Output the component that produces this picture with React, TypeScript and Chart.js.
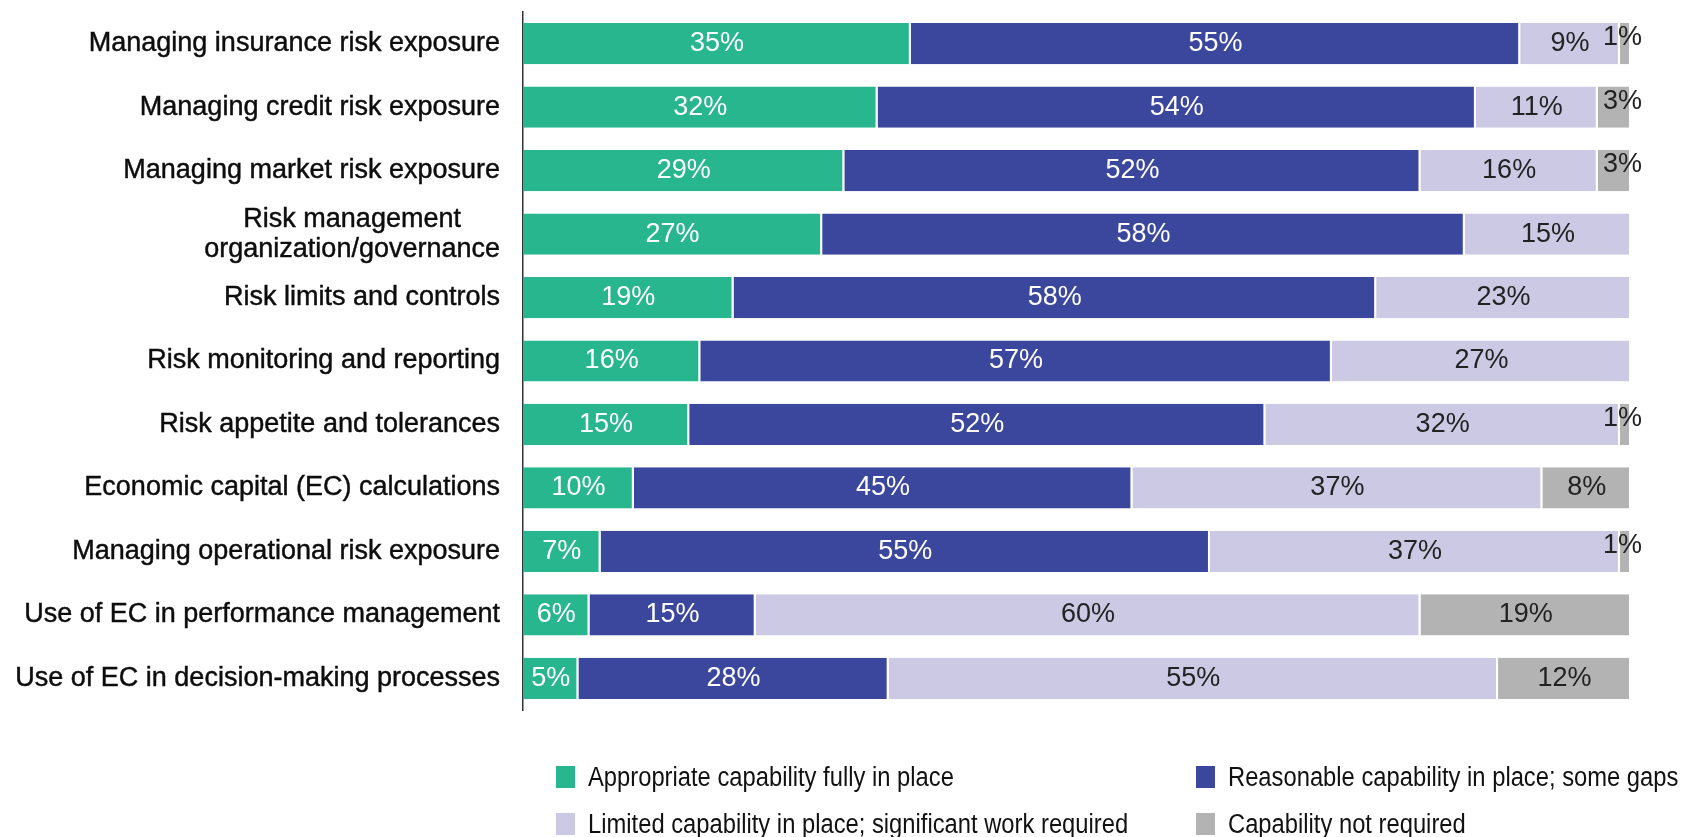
import React, { useEffect, useRef } from "react";
import { Chart, registerables } from "chart.js";

Chart.register(...registerables);

const categories: (string | string[])[] = [
  "Managing insurance risk exposure",
  "Managing credit risk exposure",
  "Managing market risk exposure",
  ["Risk management", "organization/governance"],
  "Risk limits and controls",
  "Risk monitoring and reporting",
  "Risk appetite and tolerances",
  "Economic capital (EC) calculations",
  "Managing operational risk exposure",
  "Use of EC in performance management",
  "Use of EC in decision-making processes",
];

const seriesNames = [
  "Appropriate capability fully in place",
  "Reasonable capability in place; some gaps",
  "Limited capability in place; significant work required",
  "Capability not required",
];

const fullyInPlace = [35, 32, 29, 27, 19, 16, 15, 10, 7, 6, 5];
const someGaps = [55, 54, 52, 58, 58, 57, 52, 45, 55, 15, 28];
const significantWork = [9, 11, 16, 15, 23, 27, 32, 37, 37, 60, 55];
const notRequired = [1, 3, 3, 0, 0, 0, 1, 8, 1, 19, 12];

const seriesColors = ["#27B68E", "#3B479C", "#CCC9E4", "#B3B3B3"];
const labelColors = ["#ffffff", "#ffffff", "#222222", "#222222"];

const FONT = "'Liberation Sans', Arial, sans-serif";

const categoryLabelPlugin = {
  id: "categoryLabels",
  afterDraw(chart: any) {
    const ctx = chart.ctx;
    const yScale = chart.scales.y;
    const right = chart.chartArea.left - 23;
    ctx.save();
    ctx.font = `27px ${FONT}`;
    ctx.fillStyle = "#0d0d0d";
    ctx.strokeStyle = "#0d0d0d";
    ctx.lineWidth = 0.45;
    ctx.textBaseline = "middle";
    const draw = (t: string, x: number, y: number) => {
      ctx.fillText(t, x, y);
      ctx.strokeText(t, x, y);
    };
    categories.forEach((cat, i) => {
      const y = yScale.getPixelForValue(i);
      if (Array.isArray(cat)) {
        const widths = cat.map((l) => ctx.measureText(l).width);
        const maxW = Math.max(...widths);
        const cx = right - maxW / 2;
        const lh = 30;
        const y0 = y - ((cat.length - 1) * lh) / 2;
        ctx.textAlign = "center";
        cat.forEach((line, j) => draw(line, cx, y0 + j * lh));
      } else {
        ctx.textAlign = "right";
        draw(cat, right, y);
      }
    });
    ctx.restore();
  },
};

const valueLabelPlugin = {
  id: "valueLabels",
  afterDatasetsDraw(chart: any) {
    const ctx = chart.ctx;
    ctx.save();
    ctx.font = `27px ${FONT}`;
    ctx.textBaseline = "middle";
    chart.data.datasets.forEach((ds: any, di: number) => {
      const meta = chart.getDatasetMeta(di);
      meta.data.forEach((el: any, i: number) => {
        const v = ds.data[i];
        if (!v) return;
        const text = `${v}%`;
        if (v < 5) {
          ctx.textAlign = "right";
          ctx.fillStyle = "#222222";
          ctx.fillText(text, chart.chartArea.right + 11, el.y - 6);
        } else {
          ctx.textAlign = "center";
          ctx.fillStyle = labelColors[di];
          ctx.fillText(text, (el.x + el.base) / 2, el.y);
        }
      });
    });
    ctx.restore();
  },
};

export default function App() {
  const ref = useRef<HTMLCanvasElement | null>(null);

  useEffect(() => {
    if (!ref.current) return;
    const series = [fullyInPlace, someGaps, significantWork, notRequired];
    const chart = new Chart(ref.current, {
      type: "bar",
      data: {
        labels: categories.map((c) => (Array.isArray(c) ? c.join(" ") : c)),
        datasets: series.map((data, i) => ({
          label: seriesNames[i],
          data,
          backgroundColor: seriesColors[i],
          borderColor: "#ffffff",
          borderWidth: { top: 0, bottom: 0, left: 0, right: 2 },
          borderSkipped: false,
          barPercentage: 0.65,
          categoryPercentage: 1,
        })),
      },
      options: {
        indexAxis: "y",
        animation: false,
        responsive: false,
        layout: { padding: { left: 0, right: 55, top: 12, bottom: 127 } },
        plugins: { legend: { display: false }, tooltip: { enabled: false } },
        scales: {
          x: { stacked: true, min: 0, max: 100, display: false },
          y: {
            stacked: true,
            grid: { display: false, drawTicks: false },
            border: { display: true, color: "#333333", width: 1.5 },
            ticks: { display: false },
            afterFit: (s: any) => {
              s.width = 523;
            },
          },
        },
      } as any,
      plugins: [categoryLabelPlugin, valueLabelPlugin],
    });
    return () => chart.destroy();
  }, []);

  const legendPos = [
    { x: 556, y: 766 },
    { x: 1196, y: 766 },
    { x: 556, y: 813 },
    { x: 1196, y: 813 },
  ];

  return (
    <div
      style={{
        position: "fixed",
        left: 0,
        top: 0,
        width: 1686,
        height: 837,
        background: "#ffffff",
        overflow: "hidden",
      }}
    >
      <canvas ref={ref} width={1686} height={837} style={{ width: 1686, height: 837, display: "block" }} />
      {seriesNames.map((name, i) => (
        <div
          key={name}
          style={{
            position: "absolute",
            left: legendPos[i].x,
            top: legendPos[i].y,
            height: 22,
            display: "flex",
            alignItems: "center",
            whiteSpace: "nowrap",
          }}
        >
          <div style={{ width: 19, height: 22, background: seriesColors[i], marginRight: 13, flex: "none" }} />
          <span
            style={{
              font: `27px ${FONT}`,
              color: "#111111",
              lineHeight: "22px",
              display: "inline-block",
              transform: "scaleX(0.88)",
              transformOrigin: "left center",
            }}
          >
            {name}
          </span>
        </div>
      ))}
    </div>
  );
}
